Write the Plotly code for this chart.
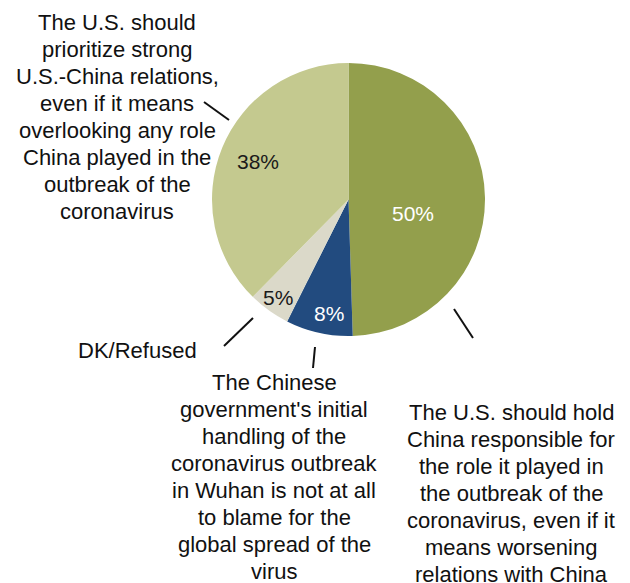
import plotly.graph_objects as go

# ---- data ----
categories = [
    "The U.S. should hold China responsible for the role it played in the outbreak of the coronavirus, even if it means worsening relations with China",
    "The Chinese government's initial handling of the coronavirus outbreak in Wuhan is not at all to blame for the global spread of the virus",
    "DK/Refused",
    "The U.S. should prioritize strong U.S.-China relations, even if it means overlooking any role China played in the outbreak of the coronavirus",
]
values = [50, 8, 5, 38]
colors = ["#939f4c", "#224b7f", "#dbd9c9", "#c4c98f"]
pct_text_colors = ["white", "white", "#1a1a1a", "#1a1a1a"]

outer_label_lines = [
    ["The U.S. should hold", "China responsible for", "the role it played in",
     "the outbreak of the", "coronavirus, even if it", "means worsening",
     "relations with China"],
    ["The Chinese", "government's initial", "handling of the",
     "coronavirus outbreak", "in Wuhan is not at all", "to blame for the",
     "global spread of the", "virus"],
    ["DK/Refused"],
    ["The U.S. should", "prioritize strong", "U.S.-China relations,",
     "even if it means", "overlooking any role", "China played in the",
     "outbreak of the", "coronavirus"],
]

# ---- layout positions (pixels) ----
W, H = 630, 583
cx, cy, r = 348.5, 199.5, 136.5
pct_pos = [(413, 213), (329, 313), (278, 297), (257.5, 161)]
outer_pos = [(511, 493), (274, 477), (137, 350), (117, 116.5)]
line_gap = 27
leaders = [
    [(454, 309), (473, 338)],
    [(315, 347), (313, 368)],
    [(253, 318), (224, 346)],
    [(204, 102), (229, 120)],
]
FONT = "Liberation Sans, Arial, sans-serif"

fig = go.Figure()
fig.add_trace(go.Pie(
    values=values,
    labels=categories,
    marker=dict(colors=colors, line=dict(width=0)),
    sort=False,
    direction="clockwise",
    rotation=0,
    textinfo="none",
    hoverinfo="label+percent",
    showlegend=False,
    domain=dict(x=[(cx - r) / W, (cx + r) / W], y=[1 - (cy + r) / H, 1 - (cy - r) / H]),
))

annotations = []
for v, (x, y), c in zip(values, pct_pos, pct_text_colors):
    annotations.append(dict(x=x, y=y, xref="x", yref="y", text=f"{v}%",
                            showarrow=False, font=dict(family=FONT, size=21, color=c),
                            xanchor="center", yanchor="middle"))
for lines, (x, y) in zip(outer_label_lines, outer_pos):
    n = len(lines)
    for i, ln in enumerate(lines):
        yy = y + (i - (n - 1) / 2) * line_gap
        annotations.append(dict(x=x, y=yy, xref="x", yref="y", text=ln,
                                showarrow=False, font=dict(family=FONT, size=22, color="#111111"),
                                xanchor="center", yanchor="middle"))

shapes = []
for (x0, y0), (x1, y1) in leaders:
    shapes.append(dict(type="line", x0=x0, y0=y0, x1=x1, y1=y1, xref="x", yref="y",
                       line=dict(color="#111111", width=2)))

fig.update_layout(
    width=W, height=H,
    margin=dict(l=0, r=0, t=0, b=0),
    paper_bgcolor="white", plot_bgcolor="rgba(0,0,0,0)",
    xaxis=dict(range=[0, W], visible=False, fixedrange=True),
    yaxis=dict(range=[H, 0], visible=False, fixedrange=True),
    annotations=annotations,
    shapes=shapes,
)
fig.write_html("out.html")
